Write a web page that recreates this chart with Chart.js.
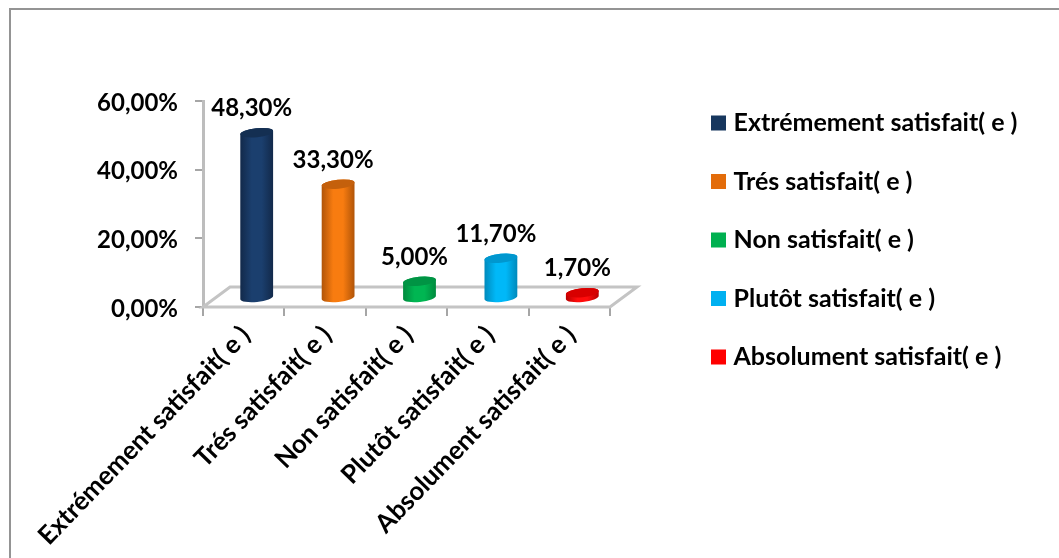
<!DOCTYPE html>
<html>
<head>
<meta charset="utf-8">
<style>
html, body { margin: 0; padding: 0; background: #fff; overflow: hidden; }
#frame { position: absolute; left: 9px; top: 8px; width: 1050px; height: 550px; border-left: 2px solid #949494; border-top: 2px solid #949494; box-sizing: border-box; }
#wrap { position: absolute; left: 0; top: 0; width: 1059px; height: 558px; }
</style>
<script src="https://cdn.jsdelivr.net/npm/chart.js@4/dist/chart.umd.js"></script>
</head>
<body>
<div id="frame"></div>
<div id="wrap"><canvas id="myChart"></canvas></div>
<script>
var categories = ['Extrémement satisfait( e )', 'Trés satisfait( e )', 'Non satisfait( e )', 'Plutôt satisfait( e )', 'Absolument satisfait( e )'];
var values = [48.3, 33.3, 5.0, 11.7, 1.7];
var valueLabels = ['48,30%', '33,30%', '5,00%', '11,70%', '1,70%'];
var yTickLabels = ['0,00%', '20,00%', '40,00%', '60,00%'];
var barColors = ['#17375e', '#e36c0a', '#00b050', '#00b0f0', '#ff0000'];
var edgeColors = ['#12294a', '#b05408', '#008a3e', '#0089bb', '#b80000'];
var lightColors = ['#1b3f6e', '#f87c10', '#00b652', '#00b8f8', '#ff0c0c'];
var capColors = ['#142f52', '#c4600c', '#009444', '#0097cf', '#d80000'];

var FONT = 'Lato';
var TEXT_SIZE = 25;    // legend names
var AXIS_SIZE = 25.7;  // category names
var NUMBER_SIZE = 24;  // percentages

// 3D look: floor depth and how far the bars sit behind the front edge
var depthX = 27, depthY = 20;
var barShiftX = 13, barShiftY = 8.5;

// cylinders instead of flat bars
Chart.BarElement.prototype.draw = function(ctx) {
    var i = this.$context.dataIndex;
    var cx = this.x + barShiftX;
    var top = this.y - barShiftY;
    var bottom = this.base - barShiftY;
    var rx = this.width / 2;
    var ry = 4.5;
    var rot = -0.1;

    var grad = ctx.createLinearGradient(cx - rx, 0, cx + rx, 0);
    grad.addColorStop(0, edgeColors[i]);
    grad.addColorStop(0.35, lightColors[i]);
    grad.addColorStop(0.65, lightColors[i]);
    grad.addColorStop(1, edgeColors[i]);

    ctx.save();
    ctx.beginPath();
    ctx.ellipse(cx, top, rx, ry, rot, Math.PI, 0, false);
    ctx.ellipse(cx, bottom, rx, ry, rot, 0, Math.PI, false);
    ctx.closePath();
    ctx.fillStyle = grad;
    ctx.fill();

    ctx.beginPath();
    ctx.ellipse(cx, top, rx, ry, rot, 0, Math.PI * 2);
    ctx.fillStyle = capColors[i];
    ctx.fill();
    ctx.restore();
};

var floorPlugin = {
    id: 'floor',
    beforeDatasetsDraw: function(chart) {
        var a = chart.chartArea, ctx = chart.ctx;
        ctx.save();
        ctx.beginPath();
        ctx.moveTo(a.left, a.bottom);
        ctx.lineTo(a.right, a.bottom);
        ctx.lineTo(a.right + depthX, a.bottom - depthY);
        ctx.lineTo(a.left + depthX, a.bottom - depthY);
        ctx.closePath();
        ctx.strokeStyle = '#c4c4c4';
        ctx.lineWidth = 3;
        ctx.stroke();
        ctx.restore();
    }
};

var valueLabelPlugin = {
    id: 'valueLabels',
    afterDatasetsDraw: function(chart) {
        var ctx = chart.ctx;
        ctx.save();
        ctx.font = '700 ' + NUMBER_SIZE + 'px ' + FONT;
        ctx.fillStyle = '#000';
        ctx.textAlign = 'center';
        ctx.textBaseline = 'middle';
        chart.getDatasetMeta(0).data.forEach(function(el, i) {
            ctx.fillText(valueLabels[i], el.x + 8, el.y - 32.5);
        });
        ctx.restore();
    }
};

// keep the plot narrow and park the legend where the reference has it
var legendPlace = {
    id: 'legendPlace',
    beforeLayout: function(chart) {
        var legend = chart.legend;
        if (legend.fitOrig) return;
        legend.fitOrig = legend.fit;
        legend.fit = function() {
            this.fitOrig();
            this.width = 449;
        };
    },
    afterLayout: function(chart) {
        var labels = chart.options.plugins.legend.labels;
        chart.legend.left = 716 - labels.padding;
        chart.legend.top = 122.5 - labels.padding - 12;
    }
};

new Chart(document.getElementById('myChart'), {
    type: 'bar',
    data: {
        labels: categories,
        datasets: [{
            data: values,
            backgroundColor: barColors,
            categoryPercentage: 1,
            barPercentage: 0.405
        }]
    },
    options: {
        responsive: true,
        maintainAspectRatio: false,
        animation: false,
        layout: { padding: { top: 101, left: 0, right: 0, bottom: 0 } },
        scales: {
            x: {
                afterFit: function(scale) { scale.height = 251; },
                border: { display: false },
                grid: { drawOnChartArea: false, color: '#a6a6a6', lineWidth: 2, tickLength: 9 },
                ticks: {
                    minRotation: 46, maxRotation: 46, autoSkip: false, padding: 4, labelOffset: 2,
                    color: '#000', font: { family: FONT, weight: '700', size: AXIS_SIZE }
                }
            },
            y: {
                min: 0, max: 60,
                afterFit: function(scale) { scale.width = 203; },
                border: { color: '#bdbdbd', width: 3 },
                grid: { drawOnChartArea: false, color: '#a6a6a6', lineWidth: 2, tickLength: 8 },
                ticks: {
                    stepSize: 20, padding: 17, labelOffset: 2, color: '#000',
                    font: { family: FONT, weight: '700', size: NUMBER_SIZE },
                    callback: function(v, i) { return yTickLabels[i]; }
                }
            }
        },
        plugins: {
            tooltip: { enabled: false },
            legend: {
                position: 'right',
                align: 'start',
                labels: {
                    // small box + thick border gives a 15px square with a tight gap to the text
                    boxWidth: 5, boxHeight: 5, padding: 33.5,
                    color: '#000',
                    font: { family: FONT, weight: '700', size: TEXT_SIZE, lineHeight: 1.2 },
                    generateLabels: function(chart) {
                        return categories.map(function(name, i) {
                            return { text: name, fillStyle: barColors[i], strokeStyle: barColors[i], lineWidth: 10, index: i };
                        });
                    }
                }
            }
        }
    },
    plugins: [floorPlugin, valueLabelPlugin, legendPlace]
});
</script>
</body>
</html>
